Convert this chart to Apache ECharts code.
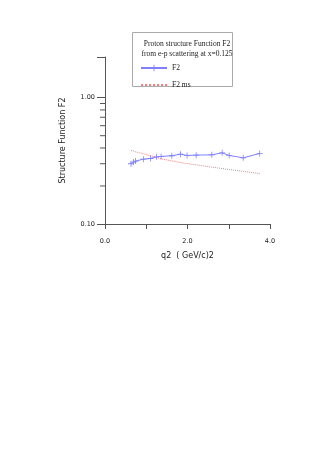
<!DOCTYPE html>
<html>
<head>
<meta charset="utf-8">
<script src="https://cdn.jsdelivr.net/npm/echarts@6/dist/echarts.min.js"></script>
<style>
  html, body { margin: 0; padding: 0; background: #fff; }
  #chart { width: 332px; height: 476px; }
</style>
</head>
<body>
<div id="chart"></div>
<script>
// q2 values (GeV/c)^2
var q2 = [0.63, 0.69, 0.74, 0.93, 1.10, 1.25, 1.36, 1.62, 1.83, 1.99, 2.21, 2.59, 2.84, 3.01, 3.35, 3.75];
// F2 measured
var f2 = [0.300, 0.309, 0.315, 0.326, 0.330, 0.340, 0.343, 0.347, 0.357, 0.349, 0.351, 0.353, 0.366, 0.349, 0.334, 0.362];
// F2 ms model
var f2ms = [0.382, 0.378, 0.373, 0.360, 0.347, 0.336, 0.328, 0.316, 0.307, 0.301, 0.294, 0.282, 0.275, 0.270, 0.261, 0.251];
// minor ticks on log axis
var minorTicks = [0.2, 0.3, 0.4, 0.5, 0.6, 0.7, 0.8, 0.9];

var axisColor = '#555';
var chart = echarts.init(document.getElementById('chart'));

function pairs(xs, ys) {
    var out = [];
    for (var i = 0; i < xs.length; i++) out.push([xs[i], ys[i]]);
    return out;
}

var option = {
    animation: false,
    title: {
        text: 'Proton structure Function F2\nfrom e-p scattering at x=0.125',
        left: 182,
        top: 34,
        textAlign: 'center',
        textStyle: {
            fontFamily: 'Liberation Serif',
            fontSize: 7.5,
            fontWeight: 'normal',
            color: '#222',
            lineHeight: 10
        }
    },
    graphic: [{
        type: 'rect',
        shape: { x: 132.5, y: 32.5, width: 100, height: 54 },
        style: { fill: 'none', stroke: '#aaa', lineWidth: 1 },
        z: 0
    }],
    legend: {
        orient: 'vertical',
        left: 135,
        top: 59,
        itemWidth: 26,
        itemHeight: 8,
        itemGap: 9,
        data: ['F2', { name: 'F2 ms', itemStyle: { opacity: 0 }, textStyle: { color: '#222' } }],
        textStyle: { fontFamily: 'Liberation Serif', fontSize: 7.5, color: '#222' }
    },
    grid: { left: 105, right: 62, top: 57, bottom: 252 },
    xAxis: {
        type: 'value',
        min: 0,
        max: 4,
        interval: 1,
        name: 'q2  ( GeV/c)2',
        nameLocation: 'middle',
        nameGap: 28,
        nameTextStyle: { fontFamily: 'DejaVu Sans', fontSize: 8, color: '#222' },
        axisLine: { lineStyle: { color: axisColor } },
        axisTick: { length: 5, lineStyle: { color: axisColor } },
        axisLabel: {
            fontFamily: 'DejaVu Sans',
            fontSize: 6.5,
            color: '#222',
            margin: 14,
            formatter: function (v) { return (v % 2 === 0) ? v.toFixed(1) : ''; }
        },
        splitLine: { show: false }
    },
    yAxis: {
        type: 'log',
        logBase: 10,
        min: 0.1,
        max: 2.1,
        name: 'Structure Function F2',
        nameLocation: 'middle',
        nameGap: 38,
        nameTextStyle: { fontFamily: 'DejaVu Sans', fontSize: 8, color: '#222' },
        axisLine: { show: true, lineStyle: { color: axisColor } },
        axisTick: { show: true, length: 8, lineStyle: { color: axisColor } },
        axisLabel: {
            fontFamily: 'DejaVu Sans',
            fontSize: 6.5,
            color: '#222',
            margin: 10,
            formatter: function (v) {
                if (Math.abs(v - 1) < 1e-6) return '1.00';
                if (Math.abs(v - 0.1) < 1e-6) return '0.10';
                return '';
            }
        },
        splitLine: { show: false }
    },
    series: [
        {
            name: 'F2',
            type: 'line',
            data: pairs(q2, f2),
            symbol: 'path://M2.6,0h0.8v6h-0.8zM0,2.6h6v0.8h-6z',
            symbolSize: 6,
            itemStyle: { color: '#8080ff' },
            lineStyle: { color: '#8080ff', width: 1 },
            z: 3
        },
        {
            name: 'F2 ms',
            type: 'line',
            data: pairs(q2, f2ms),
            symbol: 'none',
            itemStyle: { color: '#ff7a7a' },
            lineStyle: { color: '#ff7a7a', width: 1, type: 'dotted' },
            z: 2
        },
        {
            type: 'custom',
            silent: true,
            data: minorTicks.map(function (v) { return [0, v]; }),
            renderItem: function (params, api) {
                var p = api.coord([api.value(0), api.value(1)]);
                return {
                    type: 'line',
                    shape: { x1: p[0] - 5, y1: p[1], x2: p[0], y2: p[1] },
                    style: { stroke: axisColor, lineWidth: 1 }
                };
            },
            clip: false,
            z: 1
        }
    ]
};

chart.setOption(option);
</script>
</body>
</html>
